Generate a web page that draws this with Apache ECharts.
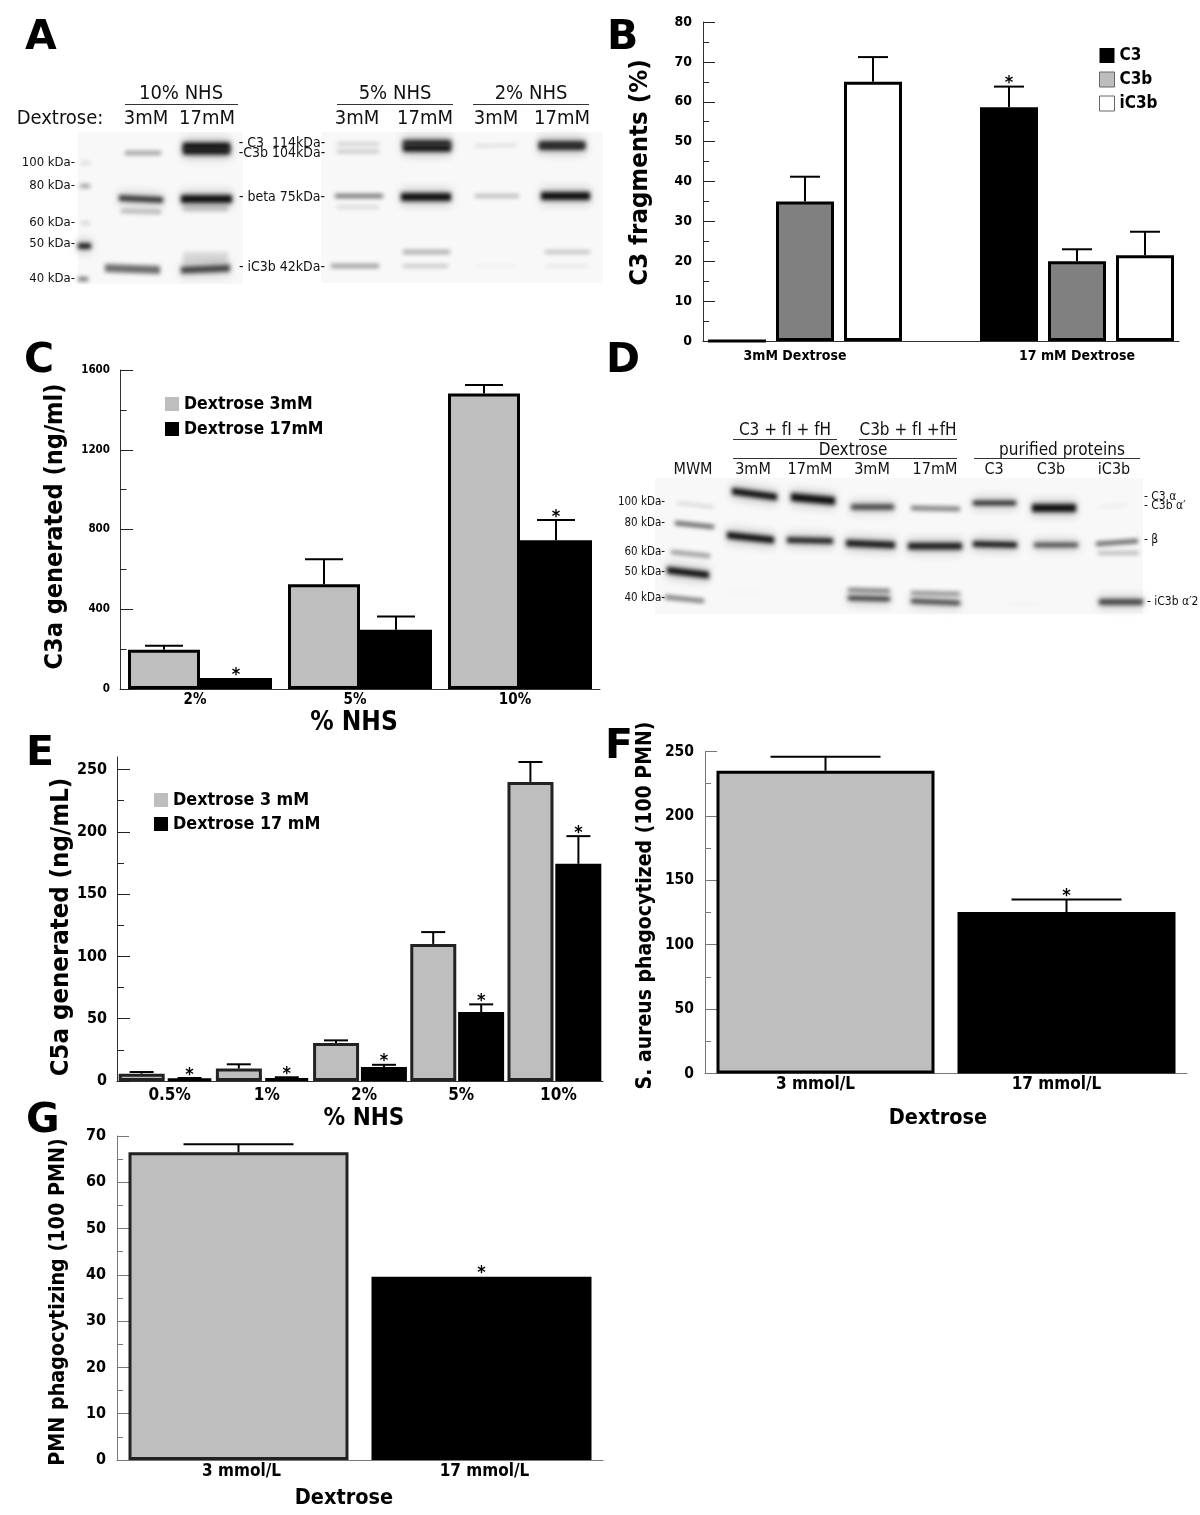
<!DOCTYPE html>
<html><head><meta charset="utf-8">
<style>html,body{margin:0;padding:0;background:#fff}#c{width:1200px;height:1515px}</style>
<script src="https://cdn.jsdelivr.net/npm/echarts@6/dist/echarts.min.js"></script></head>
<body><div id="c"></div>
<script>
// ---- Panel B ----
const bSlots = ['', '3mM Dextrose', '', '', '', '17 mM Dextrose', ''];
const bC3 =    [0, null, null, null, 58.6, null, null];
const bC3b =   [null, 35, null, null, null, 20, null];
const biC3b =  [null, null, 65, null, null, null, 21.5];
const bC3Top =   [null, null, null, null, 63.8, null, null];
const bC3bTop =  [null, 41.2, null, null, null, 23, null];
const biC3bTop = [null, null, 71.2, null, null, null, 27.4];
// ---- Panel C ----
const cCats = ['2%', '5%', '10%'];
const c3mM = [197, 526, 1482];
const c17mM = [55, 297, 746];
const c3mMTop = [217, 651, 1525];
const c17mMTop = [55, 364, 848];
// ---- Panel E ----
const eCats = ['0.5%', '1%', '2%', '5%', '10%'];
const e3mM = [5.9, 10, 30.5, 110, 240];
const e17mM = [1.9, 2.4, 11.2, 55.3, 174.3];
const e3mMTop = [7.2, 13.4, 32.6, 119.5, 256];
const e17mMTop = [2.4, 3, 13, 61.5, 196.5];
const eMajor = [0, 50, 100, 150, 200, 250];
const eMinor = [25, 75, 125, 175, 225];
// ---- Panel F ----
const fCats = ['3 mmol/L', '17 mmol/L'];
const fVals = [235, 125.4];
const fTops = [246, 135];
// ---- Panel G ----
const gCats = ['3 mmol/L', '17 mmol/L'];
const gVals = [66.5, 39.6];
const gTops = [68.2, 39.6];
// ---- Blots: [laneStart, laneEnd, migrationLeft, migrationRight, bandThickness, intensity] in scan units ----
const gelASheets = [[78,243,132,284],[321,603,132,283]];
const gelABands = [
 [81,90,163,163,2,.18],[80,90,186,186,3,.4],[81,90,223,223,2,.2],[78,91,246,246,4,1],[78,88,279,279,3,.6],
 [125,161,153,153,3,.4],[119,163,198,200,4,.85],[121,161,211,212,3,.3],[105,160,268,270,6,.6],
 [183,230,146,146,5,1],[183,230,151,151,5,.95],[181,232,199,199,6,1],[183,228,208,208,4,.22],[181,230,270,268,5,.75],[183,228,258,258,9,.13],
 [337,379,144,144,1.5,.3],[337,379,151.5,151.5,1.5,.38],[335,383,196,196,3,.6],[337,379,207,207,2,.2],[331,379,266,266,3,.42],
 [403,451,143,143,4,.9],[403,451,148,148,5,1],[401,451,197,197,6,1],[403,450,252,252,3,.35],[403,448,266,266,2,.3],
 [475,517,146,145,2,.14],[475,519,196,196,2,.4],[477,515,266,266,2,.05],
 [539,585,144,144,4,.8],[539,585,147,147,4,.85],[541,590,196,196,6,1],[545,590,252,252,2,.35],[545,588,266,266,2,.1]
];
const gelDSheets = [[655,1143,478,614]];
const gelDBands = [
 [677,714,503,507,1.5,.22],[675,714,523,527,3,.7],[671,710,552,556,3,.45],[667,709,570,575,5,1],[665,704,597,601,3,.6],
 [732,777,491,497,5,1],[727,774,535,540,5,1],[791,835,497,501,6,1],[787,833,540,541,4,.95],
 [851,894,507,507,4,.75],[846,895,543,545,5,.95],[848,890,590,591,2.5,.6],[848,890,598,599,3,.9],
 [911,960,508,509,3.5,.55],[908,962,546,546,5,.95],[911,960,593,594,2.5,.5],[911,960,601,603,3,.85],
 [973,1016,503,503,3,1],[973,1017,544,545,4,1],[1032,1076,508,508,6,1],[1034,1078,545,545,3.5,.75],
 [1096,1138,544,541,3,.7],[1098,1139,553,553,2.5,.3],[1099,1143,602,602,4,.8],[1098,1128,507,505,1.5,.08],
 [1008,1040,604,604,1.5,.04],[725,760,592,592,1,.05]
];
// ---- Text ----
const gelAHeads = ['10% NHS', '5% NHS', '2% NHS'];
const gelALanes = ['3mM', '17mM', '3mM', '17mM', '3mM', '17mM'];
const gelAMarkers = ['100 kDa-', '80 kDa-', '60 kDa-', '50 kDa-', '40 kDa-'];
const gelASpecies = ['- C3  114kDa-', '-C3b 104kDa-', '- beta 75kDa-', '- iC3b 42kDa-'];
const gelDLanes = ['MWM', '3mM', '17mM', '3mM', '17mM', 'C3', 'C3b', 'iC3b'];
const gelDSpecies = ['- C3 \u03b1', '- C3b \u03b1\u2032', '- \u03b2', '- iC3b \u03b1\u20322'];
const letters = ['A', 'B', 'C', 'D', 'E', 'F', 'G'];

const FONT = '"DejaVu Sans Condensed","DejaVu Sans",sans-serif';
const LETTER_FONT = '"DejaVu Sans",sans-serif';
const grids = [], xAxes = [], yAxes = [], series = [], legends = [];

function band(api, d, OFF, thickExtra, alpha, blur) {
  const a = api.coord([d[0], d[2]]), b = api.coord([d[1], d[3]]);
  const t = (d[4] * 1.35 + thickExtra) / 2;
  return { type: 'polygon', silent: true,
    shape: { points: [[a[0]-OFF,a[1]-t],[b[0]-OFF,b[1]-t],[b[0]-OFF,b[1]+t],[a[0]-OFF,a[1]+t]] },
    style: { fill: '#000', shadowColor: 'rgba(15,15,15,' + alpha + ')', shadowBlur: blur, shadowOffsetX: OFF } };
}
function addGel(l, t, w, h, sheets, bands) {
  const idx = grids.length;
  grids.push({ left: l, top: t, width: w, height: h });
  xAxes.push({ gridIndex: idx, type: 'value', min: l, max: l + w, show: false });
  yAxes.push({ gridIndex: idx, type: 'value', min: t, max: t + h, inverse: true, show: false });
  series.push({ type: 'custom', xAxisIndex: idx, yAxisIndex: idx, silent: true, animation: false, clip: false,
    data: sheets, encode: { x: [0,1], y: [2,3] },
    renderItem(p, api) {
      const a = api.coord([api.value(0), api.value(2)]), b = api.coord([api.value(1), api.value(3)]);
      return { type: 'rect', silent: true, shape: { x: a[0], y: a[1], width: b[0]-a[0], height: b[1]-a[1] }, style: { fill: '#f8f8f8' } };
    } });
  series.push({ type: 'custom', xAxisIndex: idx, yAxisIndex: idx, silent: true, animation: false, clip: false,
    data: bands, encode: { x: [0,1], y: [2,3] },
    renderItem(p, api) {
      const d = [0,1,2,3,4,5].map(i => api.value(i));
      const kids = [band(api, d, 3000, 0, d[5], 4.5)];
      if (d[5] > .7) kids.unshift(band(api, d, 3000, 8, .2 * d[5], 10));
      return { type: 'group', children: kids };
    } });
}
function addErr(idx, name, cats, means, tops, stars, off, cap, w) {
  const data = [];
  cats.forEach((c, i) => { if (means[i] != null && tops[i] != null) data.push([i, means[i], tops[i], stars[i] ? 1 : 0]); });
  series.push({ type: 'custom', name: name + ' error', xAxisIndex: idx, yAxisIndex: idx, silent: true, animation: false, z: 5, clip: false,
    data, encode: { x: 0, y: [1,2] },
    renderItem(p, api) {
      const a = api.coord([api.value(0), api.value(1)]), b = api.coord([api.value(0), api.value(2)]);
      const x = a[0] + off, kids = [];
      const hasBar = api.value(2) > api.value(1);
      if (hasBar) {
        kids.push({ type: 'line', shape: { x1: x, y1: a[1], x2: x, y2: b[1] }, style: { stroke: '#000', lineWidth: w } });
        kids.push({ type: 'line', shape: { x1: x - cap, y1: b[1], x2: x + cap, y2: b[1] }, style: { stroke: '#000', lineWidth: w } });
      }
      if (api.value(3)) kids.push({ type: 'text', style: { text: '*', x, y: b[1] - 3, fontFamily: FONT, fontWeight: 'bold', fontSize: 18, fill: '#000', align: 'center', verticalAlign: 'middle' } });
      return { type: 'group', children: kids };
    } });
}
function addAxes(cfg) {
  const idx = grids.length;
  grids.push({ left: cfg.left, top: cfg.top, width: cfg.width, height: cfg.height });
  xAxes.push({ gridIndex: idx, type: 'category', data: cfg.cats, boundaryGap: true,
    axisTick: { show: false }, axisLine: { onZero: false, lineStyle: { color: cfg.lineColor, width: 1 } },
    axisLabel: { interval: 0, color: '#000', fontFamily: FONT, fontWeight: 'bold', fontSize: cfg.xFont, margin: cfg.xMargin, padding: cfg.xPad || 0, hideOverlap: false, formatter: cfg.xFormatter, rich: cfg.xRich },
    name: cfg.xName || '', nameLocation: 'middle', nameGap: cfg.xGap || 30, nameMoveOverlap: false,
    nameTextStyle: { color: '#000', fontFamily: FONT, fontWeight: 'bold', fontSize: cfg.xNameFont || 20, padding: cfg.xNamePad || 0 } });
  yAxes.push({ gridIndex: idx, type: 'value', min: 0, max: cfg.max, interval: cfg.interval,
    splitLine: { show: false },
    axisLine: { show: true, onZero: false, lineStyle: { color: cfg.lineColor, width: 1 } },
    axisTick: { show: true, inside: true, length: cfg.tick, lineStyle: { color: cfg.tickColor, width: 1 }, customValues: cfg.majors },
    minorTick: { show: !cfg.majors, splitNumber: 2, length: cfg.tick / 2, lineStyle: { color: cfg.tickColor, width: 1 } },
    axisLabel: { color: '#000', fontFamily: FONT, fontWeight: 'bold', fontSize: cfg.yFont, margin: cfg.yMargin, customValues: cfg.majors, padding: [3,0,0,0], formatter: v => String(v) },
    name: cfg.yName, nameLocation: 'middle', nameGap: cfg.yGap, nameMoveOverlap: false, nameRotate: 90,
    nameTextStyle: { color: '#000', fontFamily: FONT, fontWeight: 'bold', fontSize: cfg.yNameFont, padding: cfg.yNamePad || 0 } });
  return idx;
}
function bar(idx, name, vals, color, width, gap, border) {
  series.push({ type: 'bar', name, xAxisIndex: idx, yAxisIndex: idx, data: vals, barWidth: width, barGap: gap, animation: false, silent: true,
    itemStyle: { color, borderColor: border, borderWidth: 3 } });
}
const legendText = (s) => ({ color: '#000', fontFamily: FONT, fontWeight: 'bold', fontSize: s });
function addLegend(left, top, gap, size, w, names) {
  legends.push({ left, top, orient: 'vertical', itemGap: gap, itemWidth: w, itemHeight: w, icon: 'rect', selectedMode: false, padding: 0,
    textStyle: legendText(size), data: names });
}

// Gels
addGel(78, 132, 525, 153, gelASheets, gelABands);
addGel(655, 478, 488, 136, gelDSheets, gelDBands);

// B
let b = addAxes({ left: 703, top: 22, width: 476, height: 319, cats: bSlots, max: 80, interval: 10, lineColor: '#333', tickColor: '#222', tick: 12,
  xFont: 14, xMargin: 8, xFormatter: v => v === '3mM Dextrose' ? '{s|' + v + '}' : v,
  xRich: { s: { padding: [0,20,0,0], fontFamily: FONT, fontWeight: 'bold', fontSize: 14, color: '#000' } },
  yName: 'C3 fragments (%)', yNameFont: 25.5, yGap: 50, yNamePad: [0,0,0,18], yFont: 14, yMargin: 11 });
bar(b, 'C3', bC3, '#000', 58, '-100%', '#000');
bar(b, 'C3b', bC3b, '#808080', 58, '-100%', '#000');
bar(b, 'iC3b', biC3b, '#fff', 58, '-100%', '#000');
addErr(b, 'C3', bSlots, bC3, bC3Top, [0,0,0,0,1,0,0], 0, 15, 2);
addErr(b, 'C3b', bSlots, bC3b, bC3bTop, [], 0, 15, 2);
addErr(b, 'iC3b', bSlots, biC3b, biC3bTop, [], 0, 15, 2);
addLegend(1099, 47, 7, 17, 15, [
  { name: 'C3', itemStyle: { color: '#000', borderWidth: 0 } },
  { name: 'C3b', itemStyle: { color: '#bdbdbd', borderColor: '#666', borderWidth: 1 } },
  { name: 'iC3b', itemStyle: { color: '#fff', borderColor: '#666', borderWidth: 1 } } ]);

// C
let c = addAxes({ left: 120, top: 370, width: 480, height: 319, cats: cCats, max: 1600, interval: 400, lineColor: '#333', tickColor: '#222', tick: 13,
  xFont: 15, xMargin: 4, xPad: [0,10,0,0], xName: '% NHS', xNameFont: 26, xGap: 21, xNamePad: [0,12,0,0],
  yName: 'C3a generated (ng/ml)', yNameFont: 25, yGap: 52, yNamePad: [0,0,0,6], yFont: 11.5, yMargin: 10 });
bar(c, 'Dextrose 3mM', c3mM, '#bebebe', 72, '0%', '#000');
bar(c, 'Dextrose 17mM', c17mM, '#000', 72, '0%', '#000');
addErr(c, 'C 3', cCats, c3mM, c3mMTop, [], -36, 19, 2);
addErr(c, 'C 17', cCats, c17mM, c17mMTop, [1,0,1], 36, 19, 2);
addLegend(165, 395, 7, 17.5, 14, [
  { name: 'Dextrose 3mM', itemStyle: { color: '#bebebe', borderWidth: 0 } },
  { name: 'Dextrose 17mM', itemStyle: { color: '#000', borderWidth: 0 } } ]);

// E
let e = addAxes({ left: 117, top: 757, width: 486, height: 324, cats: eCats, max: 260, interval: 50, majors: eMajor, lineColor: '#333', tickColor: '#222', tick: 13,
  xFont: 17, xMargin: 6, xPad: [0,0,0,8], xName: '% NHS', xNameFont: 24, xGap: 26, xNamePad: [0,0,0,8],
  yName: 'C5a generated (ng/mL)', yNameFont: 25.5, yGap: 43, yNamePad: [0,16,0,0], yFont: 16, yMargin: 10 });
bar(e, 'Dextrose 3 mM', e3mM, '#bebebe', 46, '4%', '#222');
bar(e, 'Dextrose 17 mM', e17mM, '#000', 46, '4%', '#000');
addErr(e, 'E 3', eCats, e3mM, e3mMTop, [], -24, 12, 2);
addErr(e, 'E 17', eCats, e17mM, e17mMTop, [1,1,1,1,1], 24, 12, 2);
addLegend(154, 791, 6, 17.8, 14, [
  { name: 'Dextrose 3 mM', itemStyle: { color: '#bebebe', borderWidth: 0 } },
  { name: 'Dextrose 17 mM', itemStyle: { color: '#000', borderWidth: 0 } } ]);

// F
let f = addAxes({ left: 705, top: 751.5, width: 482, height: 322, cats: fCats, max: 250, interval: 50, lineColor: '#777', tickColor: '#777', tick: 12,
  xFont: 17, xMargin: 3, xPad: [0,20,0,0], xName: 'Dextrose', xNameFont: 21.5, xGap: 34, xNamePad: [0,16,0,0],
  yName: 'S. aureus phagocytized (100 PMN)', yNameFont: 21, yGap: 49, yNamePad: [0,0,0,14], yFont: 15.5, yMargin: 11 });
bar(f, 'F bars', [{ value: fVals[0], itemStyle: { color: '#bebebe', borderColor: '#000' } }, { value: fVals[1], itemStyle: { color: '#000', borderColor: '#000' } }], '#bebebe', 218, '0%', '#000');
addErr(f, 'F', fCats, fVals, fTops, [0,1], 0, 55, 2);

// G
let g = addAxes({ left: 117, top: 1136, width: 486, height: 324, cats: gCats, max: 70, interval: 10, lineColor: '#777', tickColor: '#777', tick: 12,
  xFont: 17, xMargin: 3, xPad: [0,0,0,6], xName: 'Dextrose', xNameFont: 21.5, xGap: 27, xNamePad: [0,32,0,0],
  yName: 'PMN phagocytizing (100 PMN)', yNameFont: 21.3, yGap: 48, yNamePad: [0,8,0,0], yFont: 16, yMargin: 11 });
bar(g, 'G bars', [{ value: gVals[0], itemStyle: { color: '#bebebe', borderColor: '#222' } }, { value: gVals[1], itemStyle: { color: '#000', borderColor: '#000' } }], '#bebebe', 220, '0%', '#000');
addErr(g, 'G', gCats, gVals, gTops, [0,1], 0, 55, 2);

// Minor ticks of E sit on a helper axis in the same grid
yAxes.push({ gridIndex: e, type: 'value', position: 'left', min: 0, max: 260, interval: 25, splitLine: { show: false }, axisLine: { show: false },
  axisLabel: { show: false }, axisTick: { show: true, inside: true, length: 7, lineStyle: { color: '#222' }, customValues: eMinor } });

// Annotations
const gfx = [];
function txt(t, x, y, size, align, bold) {
  gfx.push({ type: 'text', silent: true, z: 100, x, y, style: { text: t, fontFamily: bold ? LETTER_FONT : FONT, fontSize: size, fontWeight: bold ? 'bold' : 'normal', fill: bold ? '#000' : '#111', align: align || 'center', verticalAlign: 'middle' } });
}
function rule(x1, x2, y) {
  gfx.push({ type: 'line', silent: true, z: 100, shape: { x1, y1: y, x2, y2: y }, style: { stroke: '#333', lineWidth: 1 } });
}
[[181,125,238],[395,337,453],[531,473,589]].forEach((h, i) => { txt(gelAHeads[i], h[0], 94, 20); rule(h[1], h[2], 104.5); });
txt('Dextrose:', 60, 119, 20);
[146,207,357,425,496,562].forEach((x, i) => txt(gelALanes[i], x, 119, 20));
[163,186,223,244,279].forEach((y, i) => txt(gelAMarkers[i], 75, y, 13, 'right'));
[143,153,197,267].forEach((y, i) => txt(gelASpecies[i], 282, y, 14));
txt('C3 + fI + fH', 785, 431, 17); rule(733, 837, 439.5);
txt('C3b + fI +fH', 908, 431, 17); rule(859, 957, 439.5);
txt('Dextrose', 853, 451, 17); rule(733, 957, 458.5);
txt('purified proteins', 1062, 451, 17); rule(974, 1140, 458.5);
[693,753,810,872,935,994,1051,1114].forEach((x, i) => txt(gelDLanes[i], x, 470, 16));
[502,523,552,572,598].forEach((y, i) => txt(gelAMarkers[i], 665, y, 11.5, 'right'));
[[1144,497],[1144,506],[1144,540],[1147,602]].forEach((p, i) => txt(gelDSpecies[i], p[0], p[1], 12, 'left'));
[[25,38],[607,38],[24,361],[606,361],[26,754],[605,747],[26,1121]].forEach((p, i) => txt(letters[i], p[0], p[1], 41, 'left', true));

const chart = echarts.init(document.getElementById('c'), null, { renderer: 'canvas', width: 1200, height: 1515 });
chart.setOption({ backgroundColor: '#fff', animation: false, tooltip: { show: false }, grid: grids, xAxis: xAxes, yAxis: yAxes, legend: legends, series, graphic: gfx });
</script></body></html>
